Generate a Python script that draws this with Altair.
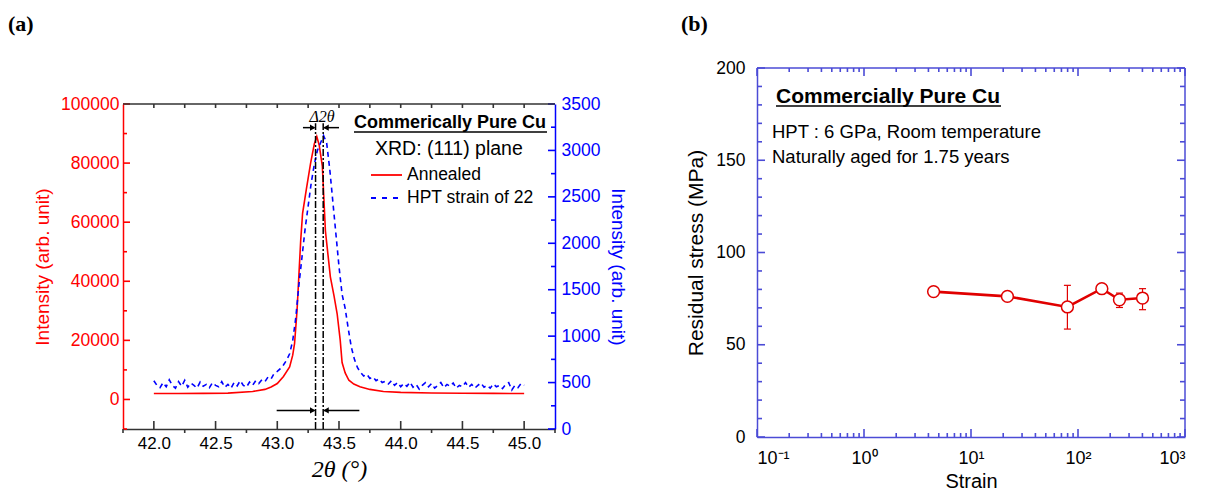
import altair as alt
import pandas as pd

# ---------------- Panel (a): XRD profiles ----------------
red_x = [42.0, 42.2, 42.4, 42.6, 42.8, 42.9, 42.95, 43.0, 43.05, 43.1, 43.125, 43.14, 43.16,
         43.175, 43.19, 43.205, 43.235, 43.27, 43.3, 43.32, 43.34, 43.365, 43.39, 43.43, 43.46,
         43.485, 43.51, 43.525, 43.55, 43.58, 43.62, 43.67, 43.75, 43.86, 44.0, 44.25, 44.5,
         44.75, 45.0]
red_y = [2000, 2000, 2050, 2150, 2700, 3400, 4200, 5400, 7800, 11000, 15000, 19000, 30000,
         42000, 54000, 63000, 71000, 80000, 86500, 89000, 86000, 79000, 57000, 41500, 35000,
         29000, 20000, 12500, 9000, 6500, 5200, 4300, 3400, 2700, 2400, 2200, 2100, 2050, 2000]

blue_x = [round(42.0 + 0.025 * i, 3) for i in range(121)]
blue_y = [520, 470, 445, 500, 455, 530, 470, 440, 510, 460, 525, 450, 495, 470, 440, 505,
          460, 480, 445, 500, 470, 455, 510, 450, 480, 440, 500, 465, 520, 470, 450, 505,
          470, 520, 490, 530, 510, 560, 540, 600, 620, 650, 690, 740, 810, 950, 1200, 1550,
          1850, 2150, 2400, 2650, 2850, 3000, 3080, 3160, 3080, 2800, 2450, 2100, 1750, 1450,
          1300, 1080, 880, 750, 660, 610, 570, 590, 545, 560, 520, 540, 500, 515, 485, 520,
          470, 500, 455, 490, 460, 505, 450, 480, 430, 470, 500, 455, 490, 440, 470, 500,
          445, 480, 460, 495, 440, 470, 455, 500, 450, 480, 440, 470, 495, 450, 470, 440,
          485, 455, 470, 435, 480, 500, 420, 470, 445, 490, 470]

peak_lines = [43.31, 43.372]
arrow_top = {"x": [43.208, 43.50], "x2": [43.30, 43.38], "y": [92000, 92000]}
arrow_bot = {"x": [42.995, 43.665], "x2": [43.30, 43.38], "y": [-3700, -3700]}
head_x = [43.287, 43.395, 43.287, 43.395]
head_y = [92000, 92000, -3700, -3700]
head_shape = ["triangle-right", "triangle-left", "triangle-right", "triangle-left"]

red_major = [0, 20000, 40000, 60000, 80000, 100000]
red_minor = [-10000, 10000, 30000, 50000, 70000, 90000]
blue_major = [0, 500, 1000, 1500, 2000, 2500, 3000, 3500]
blue_minor = [250, 750, 1250, 1750, 2250, 2750, 3250]
xa_major = [42.0, 42.5, 43.0, 43.5, 44.0, 44.5, 45.0]
xa_minor = [41.75, 42.25, 42.75, 43.25, 43.75, 44.25, 44.75, 45.25]

# ---------------- Panel (b): residual stress ----------------
strain = [4.47, 21.9, 79.6, 167, 244, 401]
stress = [78.8, 76.2, 70.5, 80.4, 74.4, 75.3]
err_strain = [79.6, 244, 401]
err_lo = [58.5, 70.2, 69.0]
err_hi = [82.2, 78.0, 80.4]

yb_major = [0, 50, 100, 150, 200]
yb_minor = [v for v in range(0, 201, 10) if v % 50 != 0]
xb_major = [0.1, 1, 10, 100, 1000]
xb_minor = [m * 10 ** k for k in (-1, 0, 1, 2) for m in range(2, 10)]

RED = "#ff0000"
BLUE = "#0000ff"
BBLUE = "#4b4bd6"
DARK = "#333333"
SANS = "Liberation Sans"
SERIF = "Liberation Serif"

# panel a: plot area is drawn from T to HA (panel is HA tall, top part left empty)
WA, HA, T = 432, 361, 36
WB, HB = 428, 369

one = pd.DataFrame({"a": [0]})

xa = alt.Scale(domain=[41.75, 45.25], nice=False, zero=False)
ya_r = alt.Scale(domain=[-10000, 100000], range=[HA, T], nice=False, zero=False)
ya_b = alt.Scale(domain=[0, 3500], range=[HA, T], nice=False, zero=False)

df_red = pd.DataFrame({"x": red_x, "y": red_y})
df_blue = pd.DataFrame({"x": blue_x, "y": blue_y})

red_line = alt.Chart(df_red).mark_line(color=RED, strokeWidth=1.6).encode(
    x=alt.X("x:Q", scale=xa, axis=alt.Axis(
        values=xa_major, format=".1f", ticks=False, tickSize=0, labelFontSize=17,
        labelPadding=6, domainColor=DARK, domainWidth=1.5, grid=False,
        title="2θ (°)", titleFont=SERIF, titleFontStyle="italic", titleFontSize=24,
        titleFontWeight="normal", titlePadding=6)),
    y=alt.Y("y:Q", scale=ya_r, axis=alt.Axis(
        orient="left", values=red_major, format="d", ticks=False, tickSize=0, labelColor=RED,
        labelFontSize=17.5, labelPadding=4, domainColor=RED, domainWidth=1.5, grid=False,
        title="Intensity (arb. unit)", titleColor=RED, titleFontSize=19,
        titleFontWeight="normal", titlePadding=8)),
)

blue_line = alt.Chart(df_blue).mark_line(color=BLUE, strokeWidth=1.6, strokeDash=[5, 4]).encode(
    x=alt.X("x:Q", scale=xa),
    y=alt.Y("y:Q", scale=ya_b, axis=alt.Axis(
        orient="right", values=blue_major, format="d", ticks=False, tickSize=0, labelColor=BLUE,
        labelFontSize=17.5, labelPadding=6, domainColor=BLUE, domainWidth=1.5, grid=False,
        title="Intensity (arb. unit)", titleColor=BLUE, titleFontSize=19,
        titleFontWeight="normal", titlePadding=8)),
)

vlines = alt.Chart(pd.DataFrame({"x": peak_lines, "y": [-10000, -10000], "y2": [93500, 93500]})).mark_rule(
    color="black", strokeWidth=1.5, strokeDash=[7, 2, 2, 2]).encode(
    x=alt.X("x:Q", scale=xa),
    y=alt.Y("y:Q", scale=ya_r, axis=None),
    y2="y2:Q",
)

arrows = alt.Chart(pd.concat([pd.DataFrame(arrow_top), pd.DataFrame(arrow_bot)])).mark_rule(
    color="black", strokeWidth=1.5).encode(
    x=alt.X("x:Q", scale=xa), x2="x2:Q",
    y=alt.Y("y:Q", scale=ya_r, axis=None),
)

heads = alt.Chart(pd.DataFrame({"x": head_x, "y": head_y, "s": head_shape})).mark_point(
    filled=True, color="black", size=40, opacity=1).encode(
    x=alt.X("x:Q", scale=xa),
    y=alt.Y("y:Q", scale=ya_r, axis=None),
    shape=alt.Shape("s:N", scale=None),
)


def ytick(vals, scale, x1, x2, color, hide_axis):
    """short horizontal rules at the given y values, between pixel x1 and x2"""
    if hide_axis:
        y = alt.Y("v:Q", scale=scale, axis=None)
    else:
        y = alt.Y("v:Q", scale=scale)
    return alt.Chart(pd.DataFrame({"v": vals})).mark_rule(
        color=color, strokeWidth=1.6, opacity=1).encode(
        y=y, x=alt.value(x1), x2=alt.value(x2))


def xtick(vals, scale, y1, y2, color):
    """short vertical rules at the given x values, between pixel y1 and y2"""
    return alt.Chart(pd.DataFrame({"v": vals})).mark_rule(
        color=color, strokeWidth=1.6, opacity=1).encode(
        x=alt.X("v:Q", scale=scale), y=alt.value(y1), y2=alt.value(y2))


def txt(s, x, y, size=17, weight="normal", font=SANS, style="normal", align="left", color="black"):
    return alt.Chart(one).mark_text(
        text=s, align=align, baseline="middle", fontSize=size, fontWeight=weight,
        font=font, fontStyle=style, color=color).encode(x=alt.value(x), y=alt.value(y))


def hrule(x1, x2, y, color="black", width=1.5, dash=None):
    kw = dict(color=color, strokeWidth=width)
    if dash:
        kw["strokeDash"] = dash
    return alt.Chart(one).mark_rule(**kw).encode(x=alt.value(x1), x2=alt.value(x2), y=alt.value(y))


panel_a = alt.layer(
    red_line, blue_line, vlines, arrows, heads,
    ytick(red_major, ya_r, 0, 7, RED, True),
    ytick(red_minor, ya_r, 0, 4, RED, True),
    ytick(blue_major, ya_b, WA - 7, WA, BLUE, True),
    ytick(blue_minor, ya_b, WA - 4, WA, BLUE, True),
    xtick(xa_major, xa, HA - 8, HA, DARK),
    xtick(xa_minor, xa, HA, HA + 4, DARK),
    xtick(xa_major + xa_minor[1:-1], xa, T, T + 4, DARK),
    hrule(0, WA, T, color=DARK, width=1.5),
    txt("Δ2θ", 199, T + 13, size=16, font=SERIF, style="italic", align="center"),
    txt("Commerically Pure Cu", 231, T + 19, size=18, weight="bold"),
    hrule(231, 424, T + 28, width=1.3),
    txt("XRD: (111) plane", 252, T + 45, size=19.5),
    hrule(248, 279, T + 71, color=RED, width=1.8),
    txt("Annealed", 284, T + 71, size=17.5),
    hrule(248, 279, T + 94, color=BLUE, width=1.8, dash=[5, 6]),
    txt("HPT strain of 22", 284, T + 94, size=17.5),
    txt("(a)", -115, -44, size=22, weight="bold", font=SERIF),
).resolve_scale(y="independent").properties(width=WA, height=HA)

# ---------------- Panel (b) ----------------
xb = alt.Scale(type="log", domain=[0.1, 1000], nice=False)
yb = alt.Scale(domain=[0, 200], nice=False, zero=False)

df_b = pd.DataFrame({"strain": strain, "stress": stress})
df_err = pd.DataFrame({"strain": err_strain, "lo": err_lo, "hi": err_hi})
df_caps = pd.DataFrame({"strain": err_strain + err_strain, "v": err_lo + err_hi})

sup = ("datum.value < 0.5 ? '10⁻¹' : datum.value < 5 ? '10⁰' : datum.value < 50 ? '10¹'"
       " : datum.value < 500 ? '10²' : '10³'")

line_b = alt.Chart(df_b).mark_line(color="#e00000", strokeWidth=2.6).encode(
    x=alt.X("strain:Q", scale=xb, axis=alt.Axis(
        values=xb_major, labelExpr=sup, ticks=False, tickSize=0, labelFontSize=18,
        labelPadding=12, domainColor=BBLUE, domainWidth=1.5, grid=False,
        title="Strain", titleFontSize=20, titleFontWeight="normal", titlePadding=4)),
    y=alt.Y("stress:Q", scale=yb, axis=alt.Axis(
        values=yb_major, ticks=False, tickSize=0, labelFontSize=17.5, labelPadding=12,
        domainColor=BBLUE, domainWidth=1.5, grid=False,
        title="Residual stress (MPa)", titleFontSize=21, titleFontWeight="normal",
        titlePadding=9)),
)

err_b = alt.Chart(df_err).mark_rule(color="#e00000", strokeWidth=1.2).encode(
    x=alt.X("strain:Q", scale=xb), y=alt.Y("lo:Q", scale=yb), y2="hi:Q")

caps_b = alt.Chart(df_caps).mark_tick(orient="horizontal", size=7, thickness=1.2,
                                      color="#e00000", opacity=1).encode(
    x=alt.X("strain:Q", scale=xb), y=alt.Y("v:Q", scale=yb))

pts_b = alt.Chart(df_b).mark_point(shape="circle", filled=True, fill="white", stroke="#e00000",
                                   strokeWidth=1.5, size=140, opacity=1).encode(
    x=alt.X("strain:Q", scale=xb), y=alt.Y("stress:Q", scale=yb))

panel_b = alt.layer(
    line_b, err_b, caps_b, pts_b,
    ytick(yb_major, yb, 0, 8, BBLUE, False),
    ytick(yb_minor, yb, 0, 5, BBLUE, False),
    ytick(yb_major, yb, WB - 8, WB, BBLUE, False),
    ytick(yb_minor, yb, WB - 5, WB, BBLUE, False),
    xtick(xb_major, xb, HB - 8, HB, BBLUE),
    xtick(xb_minor, xb, HB - 4, HB, BBLUE),
    xtick(xb_major, xb, 0, 8, BBLUE),
    xtick(xb_minor, xb, 0, 4, BBLUE),
    hrule(0, WB, 0, color=BBLUE, width=1.5),
    alt.Chart(one).mark_rule(color=BBLUE, strokeWidth=1.5).encode(
        x=alt.value(WB), y=alt.value(0), y2=alt.value(HB)),
    txt("Commercially Pure Cu", 19, 29, size=21, weight="bold"),
    hrule(19, 244, 38, width=1.4),
    txt("HPT : 6 GPa, Room temperature", 15, 64, size=18.5),
    txt("Naturally aged for 1.75 years", 15, 89, size=18.5),
    txt("(b)", -76, -44, size=22, weight="bold", font=SERIF),
).properties(width=WB, height=HB)

chart = alt.hconcat(panel_a, panel_b, spacing=54).properties(
    padding={"left": 8, "top": 13, "right": 0, "bottom": 0},
    background="white",
).configure_view(stroke=None).configure_axis(
    labelFont=SANS, titleFont=SANS, labelColor="black", titleColor="black")

chart.save("out.html", embed_options={"renderer": "svg", "actions": False})
